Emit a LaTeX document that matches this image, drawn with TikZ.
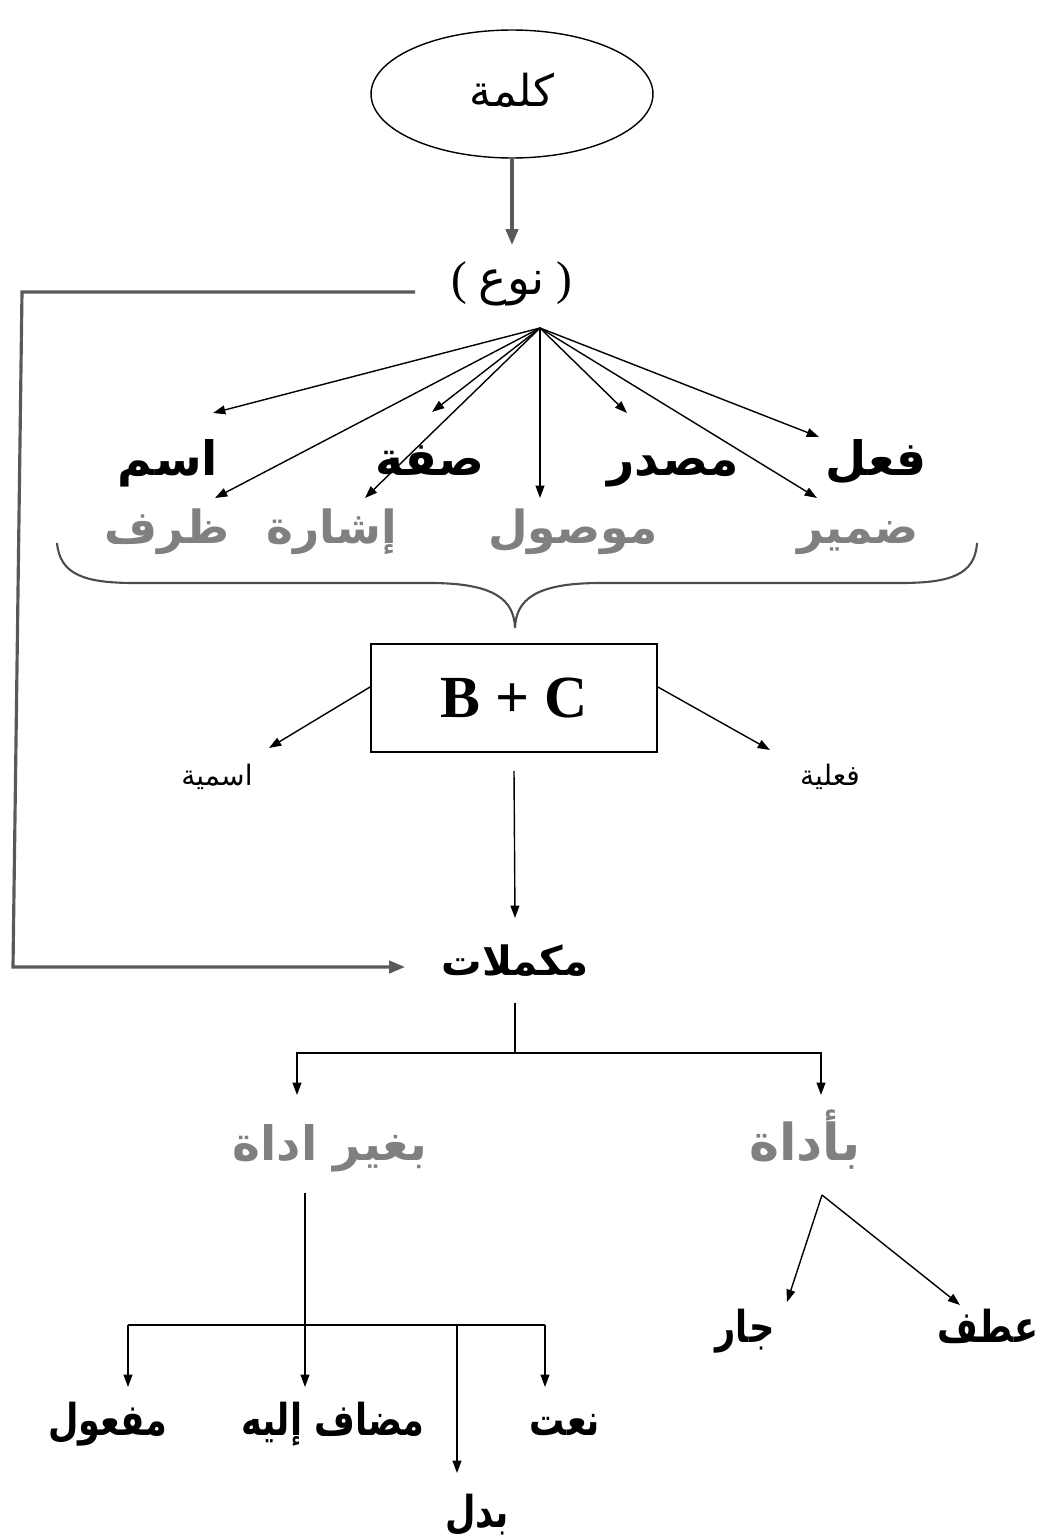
\documentclass[tikz,border=0pt]{standalone}
\usepackage{fontspec}
\usepackage{graphicx}
\setmainfont{Liberation Serif}
\newfontfamily\arabicfont[Script=Arabic]{DejaVu Sans}
\TeXXeTstate=1
\usetikzlibrary{arrows.meta,shapes.geometric}
\newcommand{\artxt}[1]{{\arabicfont\beginR #1\endR}}
\newcommand{\nartxt}[1]{\scalebox{0.8}[1]{\artxt{#1}}}
\tikzset{
  tipA/.style={-{Triangle[length=7pt,width=5pt]}},
  tipB/.style={-{Triangle[length=9pt,width=7pt]}},
  conn/.style={draw=black, line width=0.8pt},
  heavy/.style={draw=black!65, line width=1.8pt},
  blk/.style={anchor=base, inner sep=0pt, font=\fontsize{27}{32}\selectfont\arabicfont\bfseries, text=black},
  gry/.style={anchor=base, inner sep=0pt, font=\fontsize{26}{31}\selectfont\arabicfont\bfseries, text=black!50},
  low/.style={anchor=base, inner sep=0pt, font=\fontsize{25}{30}\selectfont\arabicfont\bfseries, text=black},
  reg/.style={anchor=base, inner sep=0pt, font=\fontsize{23}{27}\selectfont\arabicfont\bfseries, text=black},
  sml/.style={anchor=base, inner sep=0pt, font=\fontsize{16}{19}\selectfont\arabicfont, text=black},
}
\begin{document}
\begin{tikzpicture}[x=0.02cm, y=-0.02cm]
\useasboundingbox (0,0) rectangle (1038,1535);
% top
\node[ellipse, draw, line width=0.8pt, minimum width=5.64cm, minimum height=2.56cm, inner sep=0pt] (kalima) at (512,94) {};
\node[anchor=base, inner sep=0pt, font=\fontsize{25}{30}\selectfont] (kalimaT) at (512,106) {\artxt{كلمة}};
\node[anchor=base, inner sep=0pt, font=\fontsize{27}{31}\selectfont] (naw) at (512,294) {( \artxt{نوع} )};
\coordinate (nawtop) at (512,245);
\draw[heavy, tipB] (kalima.south) -- (nawtop);
% left loop
\coordinate (loopS) at (415,292);
\coordinate (loopA) at (22,292);
\coordinate (loopB) at (13,967);
\coordinate (mukL) at (405,967);
\draw[heavy, tipB] (loopS) -- (loopA) -- (loopB) -- (mukL);
% fan
\coordinate (fan) at (540,328);
\node[blk] (ism) at (168,475) {\artxt{اسم}};
\node[blk] (sifa) at (430,475) {\artxt{صفة}};
\node[blk] (masdar) at (673,475) {\artxt{مصدر}};
\node[blk] (fil) at (876,475) {\artxt{فعل}};
\node[gry] (zarf) at (167,543) {\artxt{ظرف}};
\node[gry] (ishara) at (332,543) {\artxt{إشارة}};
\node[gry] (mawsul) at (573,543) {\artxt{موصول}};
\node[gry] (damir) at (858,543) {\artxt{ضمير}};
\coordinate (tIsm) at (213,413);
\coordinate (tSifa) at (432,412);
\coordinate (tMasdar) at (627,413);
\coordinate (tFil) at (819,437);
\coordinate (tZarf) at (215,498);
\coordinate (tIshara) at (365,498);
\coordinate (tMawsul) at (540,498);
\coordinate (tDamir) at (817,498);
\foreach \t in {tIsm,tSifa,tMasdar,tFil,tZarf,tIshara,tMawsul,tDamir}
  \draw[conn, tipA] (fan) -- (\t);
% brace
\draw[draw=black!70, line width=1.2pt]
  (57,543) .. controls (60,575) and (85,583) .. (135,583) -- (430,583)
  .. controls (495,583) and (514,600) .. (515,628)
  .. controls (516,600) and (535,583) .. (600,583) -- (900,583)
  .. controls (950,583) and (975,575) .. (977,543);
% B+C box
\node[draw, line width=1.1pt, minimum width=5.72cm, minimum height=2.16cm, font=\fontsize{34}{40}\selectfont\bfseries] (bc) at (514,698) {B + C};
\node[sml] (ismiyya) at (217,785) {\artxt{اسمية}};
\node[sml] (filiyya) at (830,785) {\artxt{فعلية}};
\coordinate (tIsmiyya) at (269,748);
\coordinate (tFiliyya) at (770,750);
\draw[conn, tipA] ([yshift=0.22cm]bc.west) -- (tIsmiyya);
\draw[conn, tipA] ([yshift=0.22cm]bc.east) -- (tFiliyya);
% mukammilat
\node[reg] (muk) at (515,975) {\artxt{مكملات}};
\coordinate (mukTop) at (515,918);
\draw[conn, tipA] ([yshift=-0.36cm]bc.south) -- (mukTop);
\coordinate (mkBot) at (515,1003);
\coordinate (mj) at (515,1053);
\coordinate (tBigh) at (297,1095);
\coordinate (tBiad) at (821,1095);
\draw[conn] (mkBot) -- (mj);
\draw[conn, tipA] (mj) -| (tBigh);
\draw[conn, tipA] (mj) -| (tBiad);
\node[gry, font=\fontsize{27}{32}\selectfont\arabicfont\bfseries] (bigh) at (330,1160) {\artxt{بغير اداة}};
\node[gry, font=\fontsize{29}{34}\selectfont\arabicfont\bfseries] (biad) at (805,1160) {\artxt{بأداة}};
% left subtree
\node[low] (maful) at (108,1435) {\nartxt{مفعول}};
\node[low] (mudaf) at (333,1435) {\nartxt{مضاف إليه}};
\node[low] (naat) at (565,1435) {\nartxt{نعت}};
\node[low] (badal) at (477,1527) {\nartxt{بدل}};
\coordinate (bTop) at (305,1193);
\coordinate (tMudaf) at (305,1387);
\draw[conn, tipA] (bTop) -- (tMudaf);
\coordinate (hL) at (128,1325);
\coordinate (hR) at (545,1325);
\coordinate (hB) at (457,1325);
\coordinate (tMaful) at (128,1387);
\coordinate (tNaat) at (545,1387);
\coordinate (tBadal) at (457,1473);
\draw[conn] (hL) -- (hR);
\draw[conn, tipA] (hL) -- (tMaful);
\draw[conn, tipA] (hR) -- (tNaat);
\draw[conn, tipA] (hB) -- (tBadal);
% right subtree
\node[low] (jar) at (745,1342) {\nartxt{جار}};
\node[low] (atf) at (988,1342) {\nartxt{عطف}};
\coordinate (apex) at (822,1195);
\coordinate (tJar) at (787,1302);
\coordinate (tAtf) at (960,1305);
\draw[conn, tipA] (apex) -- (tJar);
\draw[conn, tipA] (apex) -- (tAtf);
\end{tikzpicture}
\end{document}
